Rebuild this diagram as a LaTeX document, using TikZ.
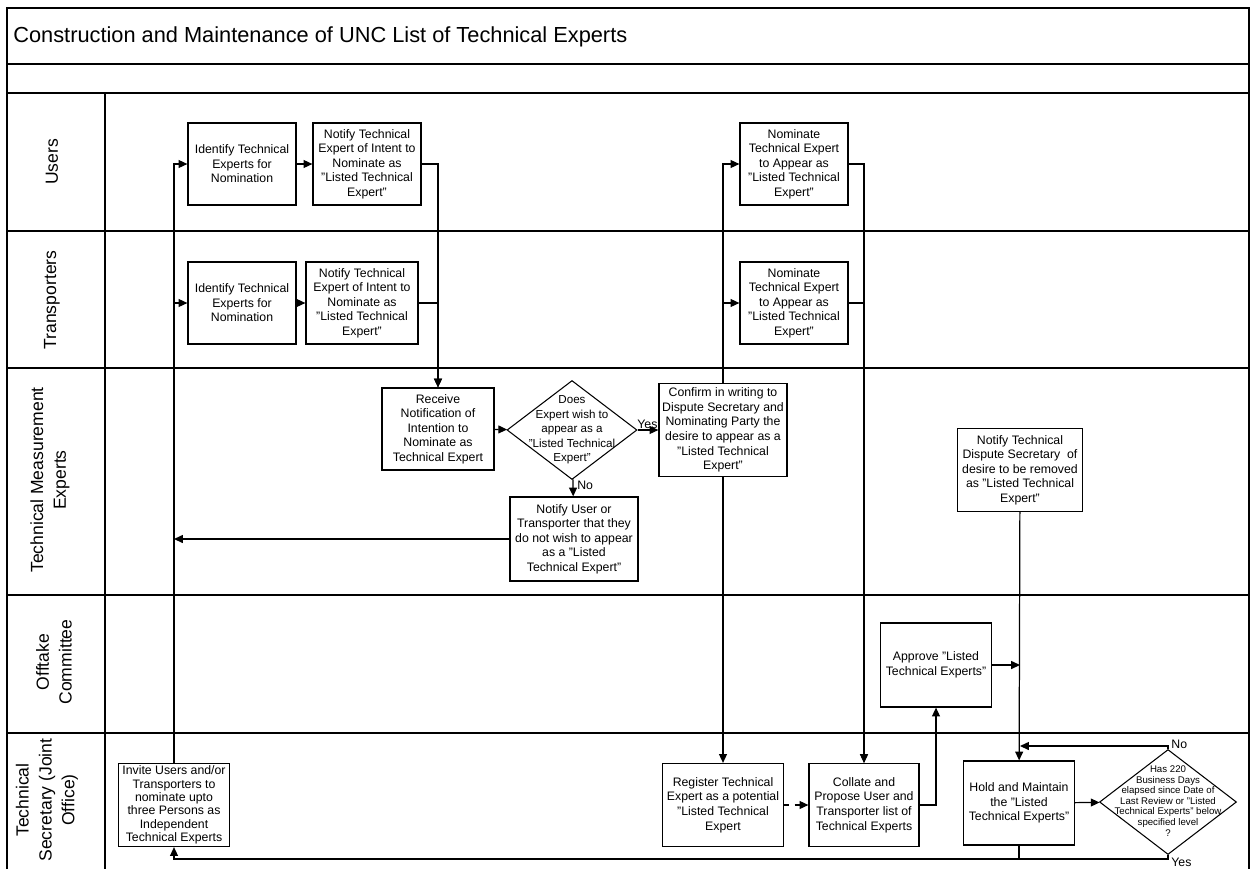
\documentclass[tikz,border=0pt]{standalone}
\usepackage{fontspec}
\setmainfont{Liberation Sans}
\usetikzlibrary{shapes.geometric,arrows.meta}
\tikzset{
  proc/.style={draw, rectangle, align=center, line width=0.7pt, font=\fontsize{7}{8.3}\selectfont, minimum width=2.16cm, minimum height=1.64cm},
  dec/.style={draw, diamond, line width=0.6pt},
  dtext/.style={align=center, font=\fontsize{6.6}{8.3}\selectfont},
  lanelbl/.style={rotate=90, align=center, font=\fontsize{10}{13}\selectfont},
  flow/.style={line width=0.7pt, -{Triangle[length=5pt,width=4.5pt]}},
  lbl/.style={font=\fontsize{7}{8}\selectfont}
}
\begin{document}
\begin{tikzpicture}[x=0.02cm,y=-0.02cm]
\tikzstyle{every node}+=[inner sep=0pt]
\useasboundingbox (0,0) rectangle (1250,869);
\draw [line width=1pt] (7,869) -- (7,8) -- (1249,8) -- (1249,869);
\draw [line width=1pt] (7,64) -- (1249,64);
\draw [line width=1pt] (7,93) -- (1249,93);
\draw [line width=1pt] (7,231) -- (1249,231);
\draw [line width=1pt] (7,368) -- (1249,368);
\draw [line width=1pt] (7,595) -- (1249,595);
\draw [line width=1pt] (7,733) -- (1249,733);
\draw [line width=1pt] (105,93) -- (105,869);
\node (title) [anchor=west, font=\fontsize{12.4}{14}\selectfont] at (13,37) {Construction and Maintenance of UNC List of Technical Experts};
\node (lusers) [lanelbl] at (52,162) {Users};
\node (ltrans) [lanelbl] at (52,300) {Transporters};
\node (ltme) [lanelbl] at (50,480) {Technical Measurement\\Experts};
\node (loff) [lanelbl] at (54,662) {Offtake\\Committee};
\node (lsec) [lanelbl] at (47,800) {Technical\\Secretary (Joint\\Office)};
\node (uid) [proc] at (242,164) {Identify Technical\\Experts for\\Nomination};
\node (unot) [proc] at (367,164) {Notify Technical\\Expert of Intent to\\Nominate as\\"Listed Technical\\Expert"};
\node (tid) [proc] at (242,303) {Identify Technical\\Experts for\\Nomination};
\node (tnot) [proc, minimum width=2.24cm] at (362,303) {Notify Technical\\Expert of Intent to\\Nominate as\\"Listed Technical\\Expert"};
\node (unom) [proc] at (794,164) {Nominate\\Technical Expert\\to Appear as\\"Listed Technical\\Expert"};
\node (tnom) [proc] at (794,303) {Nominate\\Technical Expert\\to Appear as\\"Listed Technical\\Expert"};
\node (recv) [proc, minimum width=2.24cm] at (438,429) {Receive\\Notification of\\Intention to\\Nominate as\\Technical Expert};
\node (dec1) [dec, minimum width=2.6cm, minimum height=1.98cm] at (572,430) {};
\node (dec1t) [dtext] at (572,430) {Does\\Expert wish to\\appear as a\\"Listed Technical\\Expert"};
\node (conf) [proc, minimum width=2.56cm, minimum height=1.86cm] at (723,430) {Confirm in writing to\\Dispute Secretary and\\Nominating Party the\\desire to appear as a\\"Listed Technical\\Expert"};
\node (notu) [proc, minimum width=2.56cm, minimum height=1.68cm] at (574,539) {Notify User or\\Transporter that they\\do not wish to appear\\as a "Listed\\Technical Expert"};
\node (notd) [proc, minimum width=2.5cm, minimum height=1.66cm] at (1020,470) {Notify Technical\\Dispute Secretary\ \ of\\desire to be removed\\as "Listed Technical\\Expert"};
\node (appr) [proc, minimum width=2.22cm, minimum height=1.68cm] at (936,665) {Approve "Listed\\Technical Experts"};
\node (invite) [proc, minimum width=2.22cm, minimum height=1.66cm, font=\fontsize{7}{7.6}\selectfont] at (174,805) {Invite Users and/or\\Transporters to\\nominate upto\\three Persons as\\Independent\\Technical Experts};
\node (reg) [proc, minimum width=2.42cm, minimum height=1.66cm] at (723,805) {Register Technical\\Expert as a potential\\"Listed Technical\\Expert};
\node (coll) [proc, minimum width=2.2cm, minimum height=1.66cm] at (864,805) {Collate and\\Propose User and\\Transporter list of\\Technical Experts};
\node (hold) [proc, minimum width=2.22cm, minimum height=1.68cm] at (1019,803) {Hold and Maintain\\the "Listed\\Technical Experts"};
\node (dec2) [dec, minimum width=2.74cm, minimum height=2.1cm] at (1168,802) {};
\node (dec2t) [align=center, font=\fontsize{5.5}{6}\selectfont] at (1168,801) {Has 220\\Business Days\\elapsed since Date of\\Last Review or "Listed\\Technical Experts" below\\specified level\\?};
\draw [flow] (invite.north) |- (uid.west);
\draw [flow] (invite.north) |- (tid.west);
\draw [flow] (uid) -- (unot);
\draw [flow] (tid) -- (tnot);
\draw [flow] (unot.east) -| (recv.north);
\draw [flow] (tnot.east) -| (recv.north);
\draw [flow] (recv) -- (dec1);
\draw [flow] (dec1) -- (conf);
\node (yes1) [lbl, anchor=south west] at (637,429) {Yes};
\draw [flow] (dec1) -- (notu);
\node (no1) [lbl, anchor=north west] at (577,481) {No};
\draw [flow] (notu.west) -- (notu.west -| invite.north);
\draw [flow] (conf.north) |- (unom.west);
\draw [flow] (conf.north) |- (tnom.west);
\draw [flow] (conf) -- (reg);
\draw [flow] (unom.east) -| (coll.north);
\draw [flow] (tnom.east) -| (coll.north);
\draw [flow, dashed] (reg) -- (coll);
\draw [flow] (coll.east) -| (appr.south);
\draw [flow] (appr.east) -- (appr.east -| notd.south);
\draw [flow] (notd) -- (hold);
\draw [flow] (hold) -- (dec2);
\coordinate (noturn) at (1168,746);
\draw [flow] (dec2.north) -- (noturn) -- (noturn -| notd.south);
\node (no2) [lbl, anchor=west] at (1171,744) {No};
\coordinate (yesturn) at (1168,859);
\draw [flow] (dec2.south) -- (yesturn) -- (yesturn -| invite.south) -- (invite.south);
\draw [line width=0.7pt] (hold.south) -- (hold.south |- yesturn);
\node (yes2) [lbl, anchor=west] at (1171,862) {Yes};
\end{tikzpicture}
\end{document}
